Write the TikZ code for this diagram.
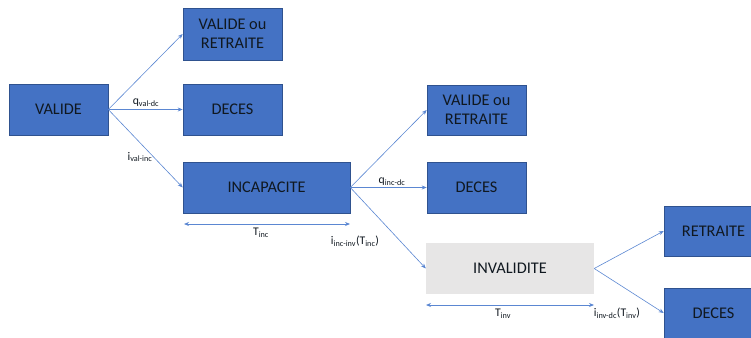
\documentclass[tikz,border=0pt]{standalone}
\usepackage{fontspec}
\setmainfont{Carlito}
\usetikzlibrary{arrows.meta}
\definecolor{boxblue}{HTML}{4472C4}
\definecolor{boxedge}{HTML}{2F528F}
\definecolor{arrblue}{HTML}{5B87D2}
\definecolor{invgray}{HTML}{E7E6E6}
\definecolor{txt}{HTML}{101820}
\tikzset{
  statebox/.style={rectangle, fill=boxblue, draw=boxedge, line width=0.6pt, minimum width=99pt, minimum height=51pt, align=center, text=txt, font=\fontsize{16.3}{18.5}\selectfont, inner sep=0pt},
  invbox/.style={rectangle, fill=invgray, draw=none, minimum width=168pt, minimum height=51pt, align=center, text=txt, font=\fontsize{16.3}{18.5}\selectfont, inner sep=0pt},
  trans/.style={draw=arrblue, line width=0.6pt, -{Stealth[length=5pt,width=4pt]}},
  dimline/.style={draw=arrblue, line width=0.8pt, {Stealth[length=5pt,width=4pt]}-{Stealth[length=5pt,width=4pt]}},
  lbl/.style={font=\fontsize{11.7}{13}\selectfont, text=txt, inner sep=0pt}
}
\begin{document}
\begin{tikzpicture}[x=1pt,y=-1pt]
\useasboundingbox (0,0) rectangle (751,337);
\clip (0,0) rectangle (751,337);
\node[statebox] (val) at (58.5,109.5) {VALIDE};
\node[statebox, minimum height=52pt] (vr1) at (232.5,34) {VALIDE ou\\RETRAITE};
\node[statebox] (dc1) at (232.5,109.5) {DECES};
\node[statebox, minimum width=167pt] (inc) at (266.5,187.5) {INCAPACITE};
\node[statebox, minimum height=50pt] (vr2) at (476.5,110) {VALIDE ou\\RETRAITE};
\node[statebox] (dc2) at (476.5,187.5) {DECES};
\node[invbox] (inv) at (510,268.5) {INVALIDITE};
\node[statebox, minimum height=50pt] (ret) at (713.5,231) {RETRAITE};
\node[statebox, minimum height=50pt] (dc3) at (713.5,313) {DECES};

\draw[trans] (val.east) -- (vr1.west);
\draw[trans] (val.east) -- (dc1.west);
\draw[trans] (val.east) -- (inc.west);
\draw[trans] (inc.east) -- (vr2.west);
\draw[trans] (inc.east) -- (dc2.west);
\draw[trans] (inc.east) -- (inv.west);
\draw[trans] (inv.east) -- (ret.west);
\draw[trans] (inv.east) -- (dc3.west);

\coordinate (tincA) at (184,224);
\coordinate (tincB) at (350,224);
\coordinate (tinvA) at (426,305);
\coordinate (tinvB) at (594,305);
\draw[dimline] (tincA) -- (tincB);
\draw[dimline] (tinvA) -- (tinvB);

\node[lbl] (lqvd) at (146,103) {q\textsubscript{val-dc}};
\node[lbl] (livi) at (140,157) {i\textsubscript{val-inc}};
\node[lbl] (ltinc) at (261,233) {T\textsubscript{inc}};
\node[lbl] (liii) at (355,241) {i\textsubscript{inc-inv}(T\textsubscript{inc})};
\node[lbl] (lqid) at (392,182) {q\textsubscript{inc-dc}};
\node[lbl] (ltinv) at (503,314) {T\textsubscript{inv}};
\node[lbl] (lidc) at (617,313) {i\textsubscript{inv-dc}(T\textsubscript{inv})};
\end{tikzpicture}
\end{document}
